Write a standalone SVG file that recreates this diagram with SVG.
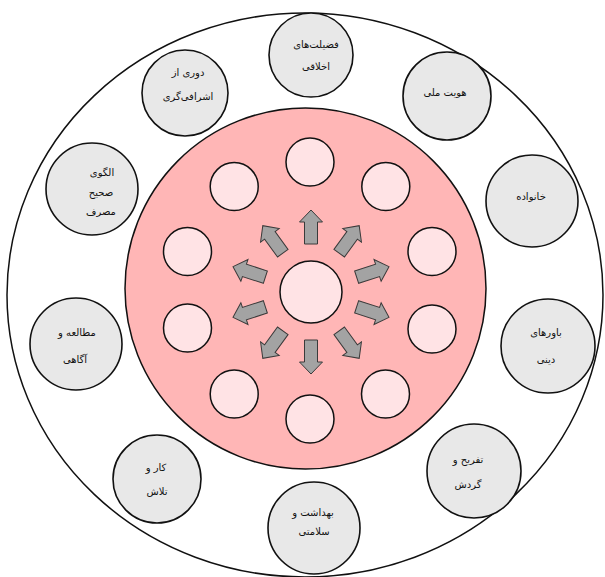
<svg xmlns="http://www.w3.org/2000/svg" width="605" height="577" viewBox="0 0 605 577">
<style>
.bg{fill:#ffffff}
.outer{fill:#ffffff;stroke:#111;stroke-width:1.5}
.core{fill:#ffb6b6;stroke:#111;stroke-width:1.5}
.small{fill:#ffe3e5;stroke:#111;stroke-width:1.5}
.node{fill:#e8e8e8;stroke:#111;stroke-width:1.6}
.arrow{fill:#a3a3a3;stroke:#3a3a3a;stroke-width:1}
text{font-family:"DejaVu Sans","Noto Sans",sans-serif;font-size:10px;fill:#111;text-anchor:middle}
</style>
<defs>
<path id="arr" d="M48,-6.5 L70,-6.5 L70,-11.5 L82,0 L70,11.5 L70,6.5 L48,6.5 Z"/>
</defs>
<rect class="bg" x="0" y="0" width="605" height="577"/>
<g id="outer-ring"><ellipse class="outer" cx="305" cy="295" rx="298" ry="282"/></g>
<g id="core"><circle class="core" cx="305.5" cy="288.5" r="180.5"/></g>
<g id="center"><circle class="small" cx="311" cy="292" r="31"/></g>
<g id="ring">
<circle class="small" cx="310" cy="162" r="24"/>
<circle class="small" cx="385.8" cy="186.6" r="24"/>
<circle class="small" cx="432" cy="251.5" r="24"/>
<circle class="small" cx="432" cy="329" r="24"/>
<circle class="small" cx="385.5" cy="394" r="24"/>
<circle class="small" cx="310" cy="419" r="24"/>
<circle class="small" cx="234.2" cy="394" r="24"/>
<circle class="small" cx="187.5" cy="328" r="24"/>
<circle class="small" cx="187.5" cy="251.5" r="24"/>
<circle class="small" cx="234.2" cy="186.6" r="24"/>
</g>
<g id="connectors" class="arrow">
<use href="#arr" transform="translate(311,292) rotate(-90)"/>
<use href="#arr" transform="translate(311,292) rotate(-54)"/>
<use href="#arr" transform="translate(311,292) rotate(-18)"/>
<use href="#arr" transform="translate(311,292) rotate(18)"/>
<use href="#arr" transform="translate(311,292) rotate(54)"/>
<use href="#arr" transform="translate(311,292) rotate(90)"/>
<use href="#arr" transform="translate(311,292) rotate(126)"/>
<use href="#arr" transform="translate(311,292) rotate(162)"/>
<use href="#arr" transform="translate(311,292) rotate(198)"/>
<use href="#arr" transform="translate(311,292) rotate(234)"/>
</g>
<g id="n-akhlaq"><circle class="node" cx="311" cy="55" r="42"/><text x="316" y="48">فضیلت‌های</text><text x="316" y="70">اخلاقی</text></g>
<g id="n-ashrafi"><circle class="node" cx="185" cy="93" r="43"/><text x="188" y="76">دوری از</text><text x="188" y="100">اشرافی‌گری</text></g>
<g id="n-hoviat"><circle class="node" cx="447" cy="96" r="44"/><text x="445" y="96">هویت ملی</text></g>
<g id="n-olgoo"><circle class="node" cx="92" cy="189" r="46"/><text x="102" y="176">الگوی</text><text x="101" y="196">صحیح</text><text x="101" y="215">مصرف</text></g>
<g id="n-khanevade"><circle class="node" cx="532" cy="201" r="46"/><text x="531" y="200">خانواده</text></g>
<g id="n-motalee"><circle class="node" cx="76" cy="344" r="46"/><text x="77" y="336">مطالعه و</text><text x="75" y="363">آگاهی</text></g>
<g id="n-bavar"><circle class="node" cx="548" cy="346" r="47"/><text x="546" y="336">باورهای</text><text x="546" y="363">دینی</text></g>
<g id="n-kar"><circle class="node" cx="157" cy="479" r="44"/><text x="156" y="471">کار و</text><text x="157" y="495">تلاش</text></g>
<g id="n-tafrih"><circle class="node" cx="474" cy="471" r="47"/><text x="468" y="463">تفریح و</text><text x="468" y="488">گردش</text></g>
<g id="n-behdasht"><circle class="node" cx="314" cy="528" r="46"/><text x="313" y="516">بهداشت و</text><text x="314" y="535">سلامتی</text></g>
</svg>
